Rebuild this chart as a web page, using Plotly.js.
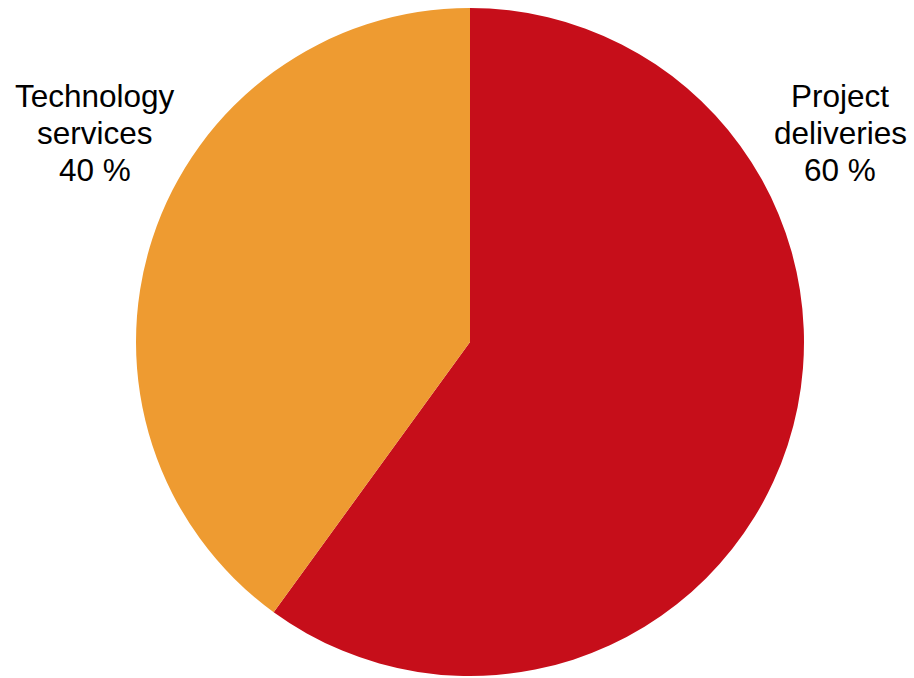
<!DOCTYPE html>
<html>
<head>
<meta charset="utf-8">
<script src="https://cdn.plot.ly/plotly-3.0.1.min.js"></script>
<style>html,body{margin:0;padding:0;background:#fff;}#chart{width:914px;height:678px;}</style>
</head>
<body>
<div id="chart"></div>
<script>
var labels = ["Project deliveries", "Technology services"];
var values = [60, 40];
var colors = ["#C60E1A", "#EE9B31"];
var labelLines = [["Project", "deliveries"], ["Technology", "services"]];
var labelX = [840, 95];          // label centre, px
var labelBaselines = [107, 144, 181]; // px from top

var W = 914, H = 678;
var fontSize = 31.5;
var annotations = [];
for (var i = 0; i < labels.length; i++) {
  var lines = labelLines[i].concat([values[i] + " %"]);
  for (var j = 0; j < lines.length; j++) {
    annotations.push({
      xref: "paper", yref: "paper",
      x: labelX[i] / W,
      y: 1 - (labelBaselines[j] - 0.3465 * fontSize) / H,
      xanchor: "center", yanchor: "middle",
      text: lines[j], showarrow: false,
      font: {family: "Liberation Sans, Arial, sans-serif", size: fontSize, color: "#000"}
    });
  }
}

var cx = 470, cy = 342, r = 334;
var data = [{
  type: "pie",
  labels: labels,
  values: values,
  sort: false,
  direction: "clockwise",
  rotation: 0,
  textinfo: "none",
  hoverinfo: "none",
  marker: {colors: colors, line: {width: 0}},
  domain: {x: [(cx - r) / W, (cx + r) / W], y: [1 - (cy + r) / H, 1 - (cy - r) / H]}
}];

var layout = {
  width: W, height: H,
  margin: {l: 0, r: 0, t: 0, b: 0},
  showlegend: false,
  paper_bgcolor: "#fff",
  annotations: annotations
};
Plotly.newPlot("chart", data, layout, {displayModeBar: false, staticPlot: true});
</script>
</body>
</html>
